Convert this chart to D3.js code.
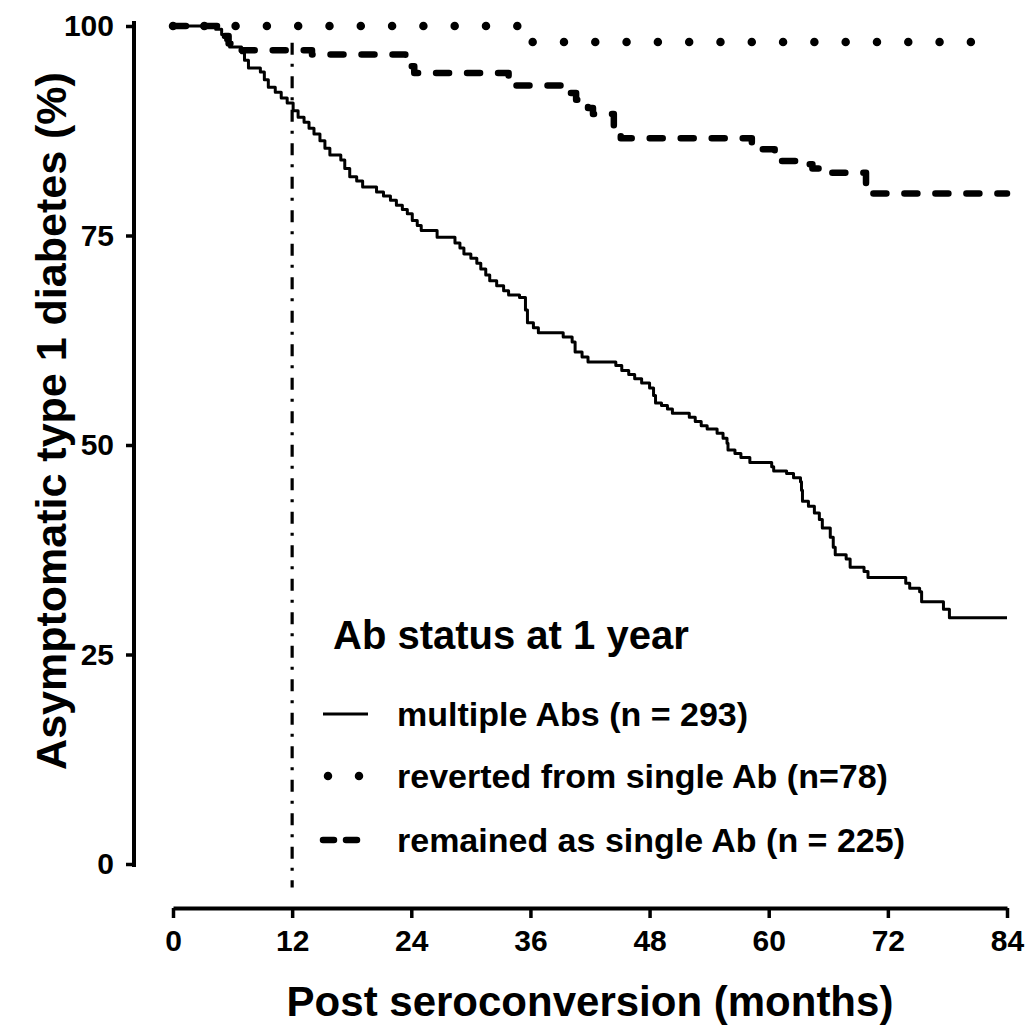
<!DOCTYPE html>
<html>
<head>
<meta charset="utf-8">
<script src="https://cdn.jsdelivr.net/npm/d3@7"></script>
<style>
  body { margin: 0; background: #fff; }
  svg { display: block; }
  text { font-family: "Liberation Sans", Arial, Helvetica, sans-serif; fill: #000; }
</style>
</head>
<body>
<svg id="chart" width="1030" height="1033"></svg>
<script>
// Kaplan-Meier estimates: [month, % still asymptomatic]; each pair is the value from that month on.
const multipleAbs = [
  [0,100],[4.3,99.6],[4.9,99.0],[5.3,98.3],[5.7,97.5],[6.9,96.8],[7.2,95.9],[7.6,95.0],
  [8.8,94.5],[9.2,93.6],[9.6,92.7],[10.3,92.1],[10.9,91.4],[11.5,90.8],[12.1,89.9],[12.6,89.1],
  [13.2,88.5],[13.7,87.8],[14.2,87.1],[14.8,86.3],[15.3,85.4],[15.8,84.6],[16.9,84.0],[17.3,83.0],
  [17.8,82.0],[18.5,81.5],[19.1,80.8],[20.5,80.2],[21.2,79.7],[21.9,79.2],[22.5,78.6],[23.1,78.1],
  [23.6,77.6],[24.1,76.8],[24.6,76.2],[25.0,75.6],[26.6,74.8],[28.4,74.1],[28.9,73.5],[29.3,72.8],
  [30.0,72.3],[30.6,71.7],[31.0,71.0],[31.5,70.3],[31.9,69.6],[32.6,69.0],[33.3,68.4],[33.8,67.9],
  [34.9,67.6],[35.5,66.1],[35.7,64.6],[36.3,64.0],[36.8,63.4],[39.3,62.9],[40.2,62.3],[40.5,61.1],
  [41.2,60.5],[41.8,59.9],[44.6,59.5],[45.2,58.9],[45.9,58.4],[46.5,57.9],[47.2,57.4],[48.0,56.8],
  [48.4,55.9],[48.6,55.0],[49.2,54.7],[49.8,54.3],[50.3,53.8],[52.0,53.3],[52.6,52.8],[53.2,52.3],
  [53.8,51.9],[54.8,51.4],[55.4,50.8],[55.8,50.2],[55.9,49.4],[56.6,49.0],[57.2,48.5],[58.1,47.9],
  [60.3,47.4],[60.5,46.9],[61.8,46.6],[62.5,46.1],[63.2,45.6],[63.3,44.6],[63.4,43.3],[64.0,42.7],
  [64.6,41.9],[65.1,41.1],[65.4,40.1],[66.2,39.0],[66.5,37.8],[66.7,36.9],[67.8,36.4],[68.2,35.4],
  [69.6,34.9],[70.0,34.2],[73.8,33.5],[74.2,32.9],[75.2,32.5],[75.4,31.3],[77.6,30.4],[78.2,29.4],
  [84,29.4]
];
const revertedSingle = [[0,100],[36,98.1],[82.5,98.1]];
const remainedSingle = [
  [0,100],[5.0,98.8],[5.6,97.9],[6.0,97.1],[14.0,96.6],[23.4,96.0],[23.8,95.2],[24.3,94.4],
  [33.8,92.9],[40.0,92.0],[40.6,91.2],[41.8,90.2],[42.3,89.5],[44.4,88.0],[44.8,87.2],[45.1,86.6],
  [58.3,85.3],[60.6,84.6],[61.0,83.9],[63.6,83.5],[64.4,83.0],[65.1,82.5],[69.8,80.0],[84,80.0]
];
const landmarkMonth = 12;
const landmarkSpan = [98, -2.8];

const xTicks = [0, 12, 24, 36, 48, 60, 72, 84];
const yTicks = [0, 25, 50, 75, 100];
const xTitle = "Post seroconversion (months)";
const yTitle = "Asymptomatic type 1 diabetes (%)";
const legendTitle = "Ab status at 1 year";
const seriesLabels = [
  "multiple Abs (n = 293)",
  "reverted from single Ab (n=78)",
  "remained as single Ab (n = 225)"
];

const svg = d3.select("#chart");
const x = d3.scaleLinear().domain([0, 84]).range([173, 1007]);
const y = d3.scaleLinear().domain([0, 100]).range([864, 26]);
const xAxisY = 908;
const yAxisX = 134;

// line styles per series: solid, round dots, dashes
const styles = [
  { width: 3, dash: null, cap: "butt" },
  { width: 8.5, dash: "0,31.3", cap: "round" },
  { width: 6.5, dash: "13,18", cap: "round" }
];
const series = [multipleAbs, revertedSingle, remainedSingle];

const stepLine = d3.line()
  .x(d => x(d[0]))
  .y(d => y(d[1]))
  .curve(d3.curveStepAfter);

// landmark line at 12 months
svg.append("line")
  .attr("x1", x(landmarkMonth)).attr("x2", x(landmarkMonth))
  .attr("y1", y(landmarkSpan[0])).attr("y2", y(landmarkSpan[1]))
  .attr("stroke", "#000").attr("stroke-width", 3.2)
  .attr("stroke-dasharray", "12,9,3,9.5");

// survival curves
const order = [2, 1, 0];
order.forEach(i => {
  svg.append("path")
    .datum(series[i])
    .attr("d", stepLine)
    .attr("fill", "none")
    .attr("stroke", "#000")
    .attr("stroke-width", styles[i].width)
    .attr("stroke-linecap", styles[i].cap)
    .attr("stroke-linejoin", "round")
    .attr("stroke-dasharray", styles[i].dash);
});

// axes
const yAxis = d3.axisLeft(y).tickValues(yTicks).tickSize(8).tickSizeOuter(0).tickPadding(12);
const gy = svg.append("g").attr("transform", `translate(${yAxisX},0)`).call(yAxis);
gy.select(".domain").attr("d", `M0,${y(100) - 5}V${y(0) + 3}`);

const xAxis = d3.axisBottom(x).tickValues(xTicks).tickSize(10).tickSizeOuter(0).tickPadding(12);
const gx = svg.append("g").attr("transform", `translate(0,${xAxisY})`).call(xAxis);

[gx, gy].forEach(g => {
  g.select(".domain").attr("stroke", "#000").attr("stroke-width", 4).attr("fill", "none");
  g.selectAll(".tick line").attr("stroke", "#000").attr("stroke-width", 3.5);
  g.selectAll(".tick text")
    .attr("font-family", "Liberation Sans, Arial, sans-serif")
    .attr("font-size", 30).attr("font-weight", "bold").attr("fill", "#000");
});

// axis titles
svg.append("text")
  .attr("x", (x(0) + x(84)) / 2).attr("y", 1016)
  .attr("text-anchor", "middle")
  .attr("font-size", 42).attr("font-weight", "bold")
  .text(xTitle);

svg.append("text")
  .attr("transform", `translate(66,${(y(0) + y(100)) / 2 - 24}) rotate(-90)`)
  .attr("text-anchor", "middle")
  .attr("font-size", 43).attr("font-weight", "bold")
  .text(yTitle);

// legend
const legend = svg.append("g").attr("transform", "translate(323,0)");
legend.append("text")
  .attr("x", 10).attr("y", 649)
  .attr("font-size", 40).attr("font-weight", "bold")
  .text(legendTitle);

const rowY = [714, 776, 840];
seriesLabels.forEach((label, i) => {
  legend.append("line")
    .attr("x1", i === 1 ? 5 : 0).attr("x2", 45)
    .attr("y1", rowY[i]).attr("y2", rowY[i])
    .attr("stroke", "#000")
    .attr("stroke-width", styles[i].width)
    .attr("stroke-linecap", styles[i].cap)
    .attr("stroke-dasharray", i === 1 ? "0,31" : (i === 2 ? "11,12" : null));
  legend.append("text")
    .attr("x", 74).attr("y", rowY[i] + 12)
    .attr("font-size", 34).attr("font-weight", "bold")
    .text(label);
});
</script>
</body>
</html>
